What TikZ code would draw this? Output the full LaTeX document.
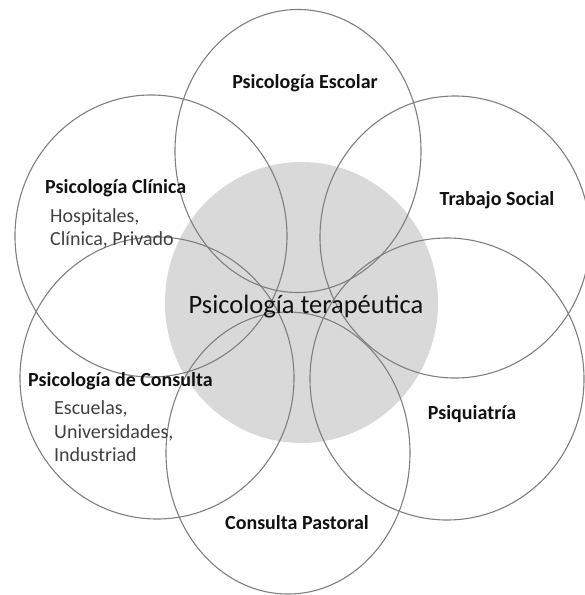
\documentclass[tikz,border=0pt]{standalone}
\usepackage{fontspec}
\setmainfont{Carlito}
\usetikzlibrary{shapes.geometric}
\definecolor{ringgray}{HTML}{7F7F7F}
\definecolor{corefill}{HTML}{D9D9D9}
\definecolor{subtext}{HTML}{404040}
\definecolor{labeltext}{HTML}{111111}
\begin{document}
\begin{tikzpicture}[x=1pt,y=-1pt,
  ring/.style={ellipse, draw=ringgray, line width=1.1pt, inner sep=0pt},
  fieldname/.style={font=\bfseries\fontsize{20}{24}\selectfont, text=labeltext, inner sep=0pt},
  fieldsub/.style={font=\fontsize{20}{23.5}\selectfont, text=subtext, align=left, inner sep=0pt},
]
\useasboundingbox (0,0) rectangle (585,595);

% shaded core
\node[ellipse, fill=corefill, inner sep=0pt, minimum width=273pt, minimum height=281pt] (core) at (301.5,302.5) {};

% surrounding fields
\node[ring, minimum width=246pt, minimum height=283pt] (escolar)   at (298,151) {};
\node[ring, minimum width=272pt, minimum height=282pt] (clinica)   at (151,236) {};
\node[ring, minimum width=270pt, minimum height=282pt] (trabajo)   at (455,237) {};
\node[ring, minimum width=274pt, minimum height=282pt] (consulta)  at (157,378) {};
\node[ring, minimum width=274pt, minimum height=282pt] (psiq)      at (447,379) {};
\node[ring, minimum width=244pt, minimum height=282pt] (pastoral)  at (288,453) {};

% labels
\node[font=\fontsize{26.5}{30}\selectfont, text=labeltext, inner sep=0pt] (coretxt) at (306,307) {Psicología terapéutica};
\node[fieldname] (escolartxt) at (305,83) {Psicología Escolar};
\node[fieldname, anchor=west] (clinicatxt) at (45,188) {Psicología Clínica};
\node[fieldsub, anchor=west] (clinicasub) at (50,228.5) {Hospitales,\\Clínica, Privado};
\node[fieldname] (trabajotxt) at (497,200) {Trabajo Social};
\node[fieldname, anchor=west] (consultatxt) at (28,381) {Psicología de Consulta};
\node[fieldsub, anchor=west] (consultasub) at (54,431.5) {Escuelas,\\Universidades,\\Industriad};
\node[fieldname] (psiqtxt) at (472,414) {Psiquiatría};
\node[fieldname] (pastoraltxt) at (297,523) {Consulta Pastoral};
\end{tikzpicture}
\end{document}
